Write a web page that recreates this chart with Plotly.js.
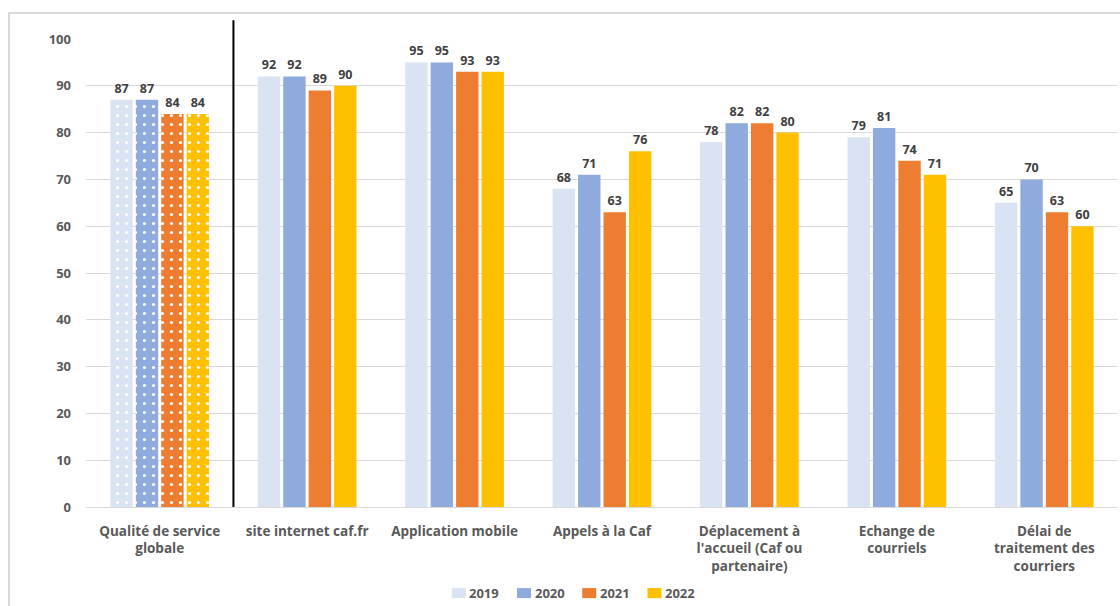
<!DOCTYPE html>
<html>
<head>
<meta charset="utf-8">
<script src="https://cdn.plot.ly/plotly-3.0.1.min.js"></script>
<style>
  html, body { margin: 0; padding: 0; overflow: hidden; background: #fff; }
  #frame { position: absolute; left: 8px; top: 12px; width: 1200px; height: 700px;
           border: 2px solid #d9d9d9; box-sizing: border-box; }
  #chart { position: absolute; left: 0; top: 0; width: 1120px; height: 606px; }
</style>
</head>
<body>
<div id="frame"></div>
<div id="chart"></div>
<script>
// Satisfaction par canal de contact, 2019-2022
const categories = [
  "Qualité de service<br>globale",
  "site internet caf.fr",
  "Application mobile",
  "Appels à la Caf",
  "Déplacement à<br>l'accueil (Caf ou<br>partenaire)",
  "Echange de<br>courriels",
  "Délai de<br>traitement des<br>courriers"
];
const years = ["2019", "2020", "2021", "2022"];
const values2019 = [87, 92, 95, 68, 78, 79, 65];
const values2020 = [87, 92, 95, 71, 82, 81, 70];
const values2021 = [84, 89, 93, 63, 82, 74, 63];
const values2022 = [84, 90, 93, 76, 80, 71, 60];
const yTicks = [0, 10, 20, 30, 40, 50, 60, 70, 80, 90, 100];

const seriesValues = [values2019, values2020, values2021, values2022];
const colors = ["#dae3f3", "#8faadc", "#ed7d31", "#ffc000"];
const fontFamily = "'Open Sans', Lato, sans-serif";
const labelFont = (size, color) => ({ family: fontFamily, size: size, color: color, weight: "bold" });

const traces = [];
years.forEach((yr, k) => {
  const vals = seriesValues[k];
  // overall quality (first category) is drawn with a dotted fill
  traces.push({
    type: "bar",
    name: yr,
    x: categories.slice(0, 1),
    y: vals.slice(0, 1),
    text: vals.slice(0, 1).map(String),
    textposition: "outside",
    cliponaxis: false,
    textfont: labelFont(12.5, "#404040"),
    offsetgroup: yr,
    marker: {
      color: colors[k],
      line: { width: 0 },
      pattern: { shape: ".", fgcolor: "#ffffff", bgcolor: colors[k], size: 9, solidity: 0.1, fillmode: "replace" }
    }
  });
  // the individual channels use a solid fill
  traces.push({
    type: "bar",
    name: yr,
    x: categories.slice(1),
    y: vals.slice(1),
    text: vals.slice(1).map(String),
    textposition: "outside",
    cliponaxis: false,
    textfont: labelFont(12.5, "#404040"),
    offsetgroup: yr,
    marker: { color: colors[k], line: { width: 0 } }
  });
});

// compact legend row under the axis: a swatch followed by the year
const legendX0 = 0.3544;     // left edge of the first swatch (paper units)
const legendStep = 0.0632;   // distance between entries
const swatchW = 0.0136, legendY = -0.184, swatchH = 0.0214;
const legendShapes = years.map((yr, k) => ({
  type: "rect", xref: "paper", yref: "paper",
  x0: legendX0 + k * legendStep, x1: legendX0 + k * legendStep + swatchW,
  y0: legendY - swatchH / 2, y1: legendY + swatchH / 2,
  fillcolor: colors[k], line: { width: 0 }
}));
const legendLabels = years.map((yr, k) => ({
  xref: "paper", yref: "paper",
  x: legendX0 + k * legendStep + swatchW + 0.0015, y: legendY,
  xanchor: "left", yanchor: "middle",
  text: yr, showarrow: false,
  font: labelFont(13, "#595959")
}));

const layout = {
  width: 1120,
  height: 606,
  margin: { l: 86, r: 2, t: 39, b: 99, autoexpand: false },
  paper_bgcolor: "rgba(0,0,0,0)",
  plot_bgcolor: "rgba(0,0,0,0)",
  barmode: "group",
  bargap: 0.31,
  bargroupgap: 0.12,
  font: { family: fontFamily, color: "#595959" },
  xaxis: {
    type: "category",
    categoryorder: "array",
    categoryarray: categories,
    showgrid: false,
    showline: false,
    ticks: "",
    ticklabelstandoff: 14,
    tickfont: labelFont(13.5, "#595959"),
    automargin: false
  },
  yaxis: {
    range: [0, 100],
    tickvals: yTicks,
    ticktext: yTicks.map(String),
    showgrid: true,
    gridcolor: "#d9d9d9",
    gridwidth: 1,
    zeroline: true,
    zerolinecolor: "#d9d9d9",
    zerolinewidth: 1,
    showline: false,
    ticks: "",
    ticklabelstandoff: 14,
    tickfont: labelFont(13, "#595959"),
    fixedrange: true,
    automargin: false
  },
  showlegend: false,
  annotations: legendLabels,
  shapes: [{
    type: "line",
    xref: "x",
    yref: "paper",
    x0: 0.5, x1: 0.5,
    y0: 0, y1: 1.04,
    line: { color: "#000000", width: 2 }
  }].concat(legendShapes)
};

Plotly.newPlot("chart", traces, layout, { displayModeBar: false, staticPlot: true });
</script>
</body>
</html>
